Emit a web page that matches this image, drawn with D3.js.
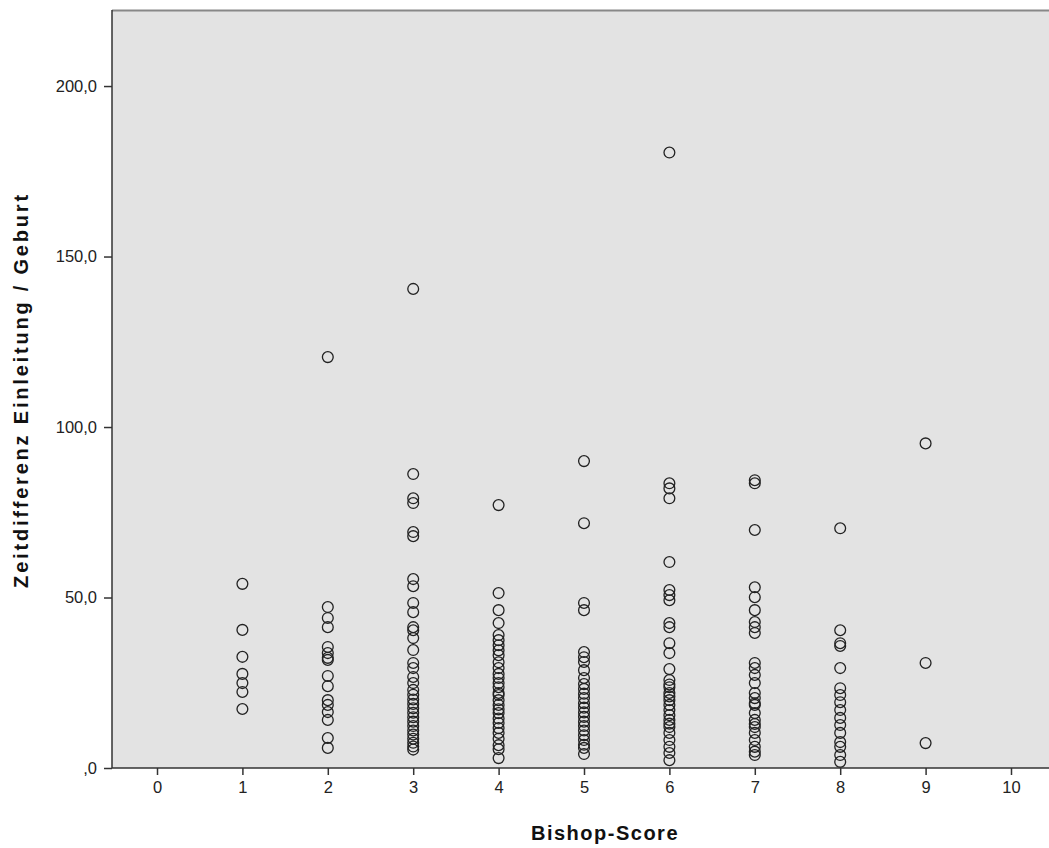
<!DOCTYPE html>
<html>
<head>
<meta charset="utf-8">
<script src="https://cdn.jsdelivr.net/npm/d3@7"></script>
<style>
  body { margin: 0; background: #fff; }
  svg { display: block; }
</style>
</head>
<body>
<div id="chart"></div>
<script>
// data, one list per Bishop score
let score1 = [54.0, 40.5, 32.6, 27.6, 24.9, 22.3, 17.3];
let score2 = [120.5, 47.2, 44.0, 41.3, 35.5, 33.7, 32.3, 31.7, 27.0, 24.0, 19.9, 18.5, 16.4, 14.1, 8.8, 5.9];
let score3 = [140.5, 86.2, 79.1, 77.7, 69.2, 68.0, 55.4, 53.3, 48.4, 45.7, 41.3, 40.4, 38.1, 34.6, 30.8, 29.3, 26.7,
  24.9, 22.9, 21.5, 20.1, 18.8, 17.5, 16.2, 14.9, 13.6, 12.3, 11.0, 9.8, 8.6, 7.4, 6.3, 5.4];
let score4 = [77.1, 51.3, 46.3, 42.5, 39.0, 37.5, 36.0, 34.5, 33.1, 31.0, 29.3, 27.6, 26.4, 24.9, 23.7, 22.0, 21.4,
  19.9, 18.5, 17.2, 16.1, 14.5, 13.2, 11.7, 10.3, 8.6, 6.7, 5.5, 2.9];
let score5 = [90.0, 71.8, 48.4, 46.3, 34.0, 32.5, 31.1, 28.7, 26.4, 24.6, 23.2, 21.8, 20.5, 19.0, 17.7, 16.3, 15.0,
  13.6, 12.3, 11.0, 9.6, 8.2, 6.8, 5.9, 4.1];
let score6 = [180.5, 83.5, 82.0, 79.1, 60.4, 52.2, 50.7, 49.2, 42.5, 41.3, 36.6, 33.7, 29.0, 25.8, 24.5, 23.7, 22.0,
  21.0, 19.9, 18.5, 17.0, 15.5, 14.1, 13.0, 12.0, 10.3, 8.2, 6.2, 4.4, 2.3];
let score7 = [84.4, 83.5, 69.8, 53.0, 50.1, 46.3, 42.8, 41.3, 39.6, 30.8, 29.3, 27.3, 24.9, 22.0, 20.5, 19.0, 18.5,
  16.1, 14.1, 12.9, 12.0, 10.3, 8.2, 6.2, 4.8, 3.8];
let score8 = [70.3, 40.4, 36.6, 35.8, 29.3, 23.4, 21.4, 19.3, 17.0, 14.7, 12.6, 10.3, 7.6, 6.2, 3.8, 1.8];
let score9 = [95.2, 30.8, 7.3];

let scoreLists = [[1, score1], [2, score2], [3, score3], [4, score4], [5, score5],
  [6, score6], [7, score7], [8, score8], [9, score9]];

let xTicks = [0, 1, 2, 3, 4, 5, 6, 7, 8, 9, 10];
let yTicks = [0, 50, 100, 150, 200];

// flatten into points
let points = [];
scoreLists.forEach(function(s){
  s[1].forEach(function(v){ points.push({score: s[0], value: v}); });
});

let width = 1049, height = 848;
let plotLeft = 112, plotRight = 1049, plotTop = 10, plotBottom = 768;
let fontFam = "'Liberation Sans', Arial, sans-serif";

var svg = d3.select("#chart")
        .append("svg")
        .attr("width", width)
        .attr("height", height);

let x = d3.scaleLinear().domain([-0.527, 10.445]).range([plotLeft, plotRight]);
let y = d3.scaleLinear().domain([0, 222.3]).range([plotBottom, plotTop]);

// plot background
svg.append("rect")
  .attr("x", plotLeft)
  .attr("y", plotTop)
  .attr("width", plotRight - plotLeft)
  .attr("height", plotBottom - plotTop)
  .attr("fill", "#e3e3e3");

// top border
svg.append("line")
  .attr("x1", plotLeft).attr("x2", plotRight)
  .attr("y1", plotTop + 0.5).attr("y2", plotTop + 0.5)
  .attr("stroke", "#888").attr("stroke-width", 2);

// points
svg.append("g")
  .selectAll("circle")
  .data(points)
  .join("circle")
  .attr("cx", d => x(d.score))
  .attr("cy", d => y(d.value))
  .attr("r", 5.4)
  .attr("fill", "none")
  .attr("stroke", "#222")
  .attr("stroke-width", 1.3);

// axes
let fmt = function(d){ return d === 0 ? ",0" : d3.format(".1f")(d).replace(".", ","); };

let yAxis = svg.append("g")
  .attr("transform", "translate(" + plotLeft + ",0)")
  .call(d3.axisLeft(y).tickValues(yTicks).tickSize(8).tickPadding(7).tickFormat(fmt));

let xAxis = svg.append("g")
  .attr("transform", "translate(0," + plotBottom + ")")
  .call(d3.axisBottom(x).tickValues(xTicks).tickSize(7).tickPadding(6));

[yAxis, xAxis].forEach(function(a){
  a.select(".domain").attr("stroke", "#333").attr("stroke-width", 1.5);
  a.selectAll(".tick line").attr("stroke", "#333").attr("stroke-width", 1.5);
  a.selectAll(".tick text")
    .attr("fill", "#222")
    .style("font-family", fontFam)
    .style("font-size", "16.5px");
});
yAxis.select(".domain").attr("d", "M0," + plotTop + "V" + plotBottom);
xAxis.select(".domain").attr("d", "M" + plotLeft + ",0H" + plotRight);

// axis titles
svg.append("text")
  .attr("x", 605)
  .attr("y", 840)
  .style("text-anchor", "middle")
  .style("font-family", fontFam)
  .style("font-size", "20px")
  .style("letter-spacing", "1.5px")
  .style("font-weight", "bold")
  .attr("fill", "#111")
  .text("Bishop-Score");

svg.append("text")
  .attr("transform", "translate(28,390) rotate(-90)")
  .style("text-anchor", "middle")
  .style("font-family", fontFam)
  .style("font-size", "20px")
  .style("letter-spacing", "2.8px")
  .style("font-weight", "bold")
  .attr("fill", "#111")
  .text("Zeitdifferenz Einleitung / Geburt");
</script>
</body>
</html>
